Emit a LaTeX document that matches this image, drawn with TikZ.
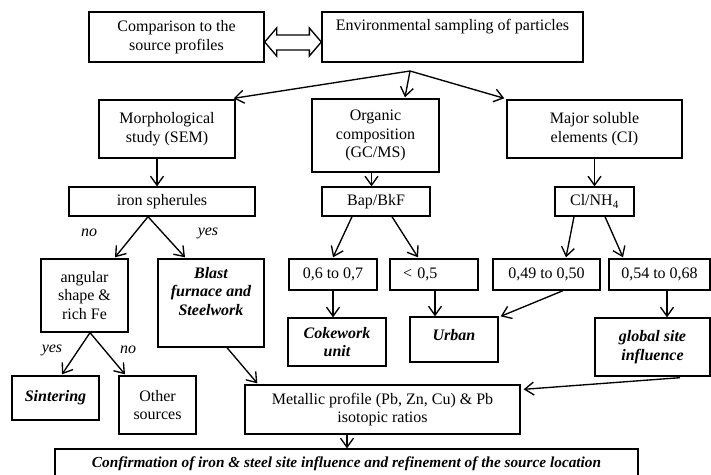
\documentclass[tikz,border=0pt]{standalone}
\usepackage{fontspec}
\setmainfont{Liberation Serif}
\usetikzlibrary{arrows.meta,calc}
\tikzset{
  bx/.style={draw, line width=1.35pt, align=center, inner sep=0pt, font=\fontsize{16}{18.5}\selectfont},
  bi/.style={font=\fontsize{16}{18.5}\selectfont\bfseries\itshape},
  lbl/.style={inner sep=0pt, font=\fontsize{16}{18.5}\selectfont\itshape},
  arr/.style={line width=1.35pt, -{Straight Barb[length=9pt,width=13pt,line width=1.35pt]}},
}
\begin{document}
\begin{tikzpicture}[x=1pt,y=-1pt]
\useasboundingbox (0,0) rectangle (711,474);
% top row
\node[bx, minimum width=175, minimum height=50] (cmp) at (176.5,37) {Comparison to the\\source profiles};
\node[bx, minimum width=261, minimum height=50] (env) at (452.5,37) {Environmental sampling of particles\\\strut};
% second row
\node[bx, minimum width=136, minimum height=58] (morph) at (167,129) {Morphological\\study (SEM)};
\node[bx, minimum width=127, minimum height=73] (org) at (375.5,135.5) {Organic\\composition\\(GC/MS)};
\node[bx, minimum width=175, minimum height=58] (maj) at (594.5,129) {Major soluble\\elements (CI)};
% third row
\node[bx, minimum width=186, minimum height=29] (iron) at (162,201.5) {iron spherules};
\node[bx, minimum width=108, minimum height=29] (bap) at (376,201.5) {Bap/BkF};
\node[bx, minimum width=79, minimum height=29] (cl) at (594.5,201.5) {Cl/NH\textsubscript{4}};
% fourth row
\node[bx, minimum width=87, minimum height=73] (ang) at (84.5,295.5) {angular\\shape \&\\rich Fe};
\node[bx, bi, minimum width=106, minimum height=88] (blast) at (211,303) {Blast\\furnace and\\Steelwork\\\strut};
\node[bx, minimum width=88, minimum height=31] (c06) at (333,274.5) {0,6 to 0,7};
\node[bx, minimum width=88, minimum height=31, inner xsep=13pt, text width=62pt, align=left] (c05) at (434,274.5) {< 0,5};
\node[bx, minimum width=107, minimum height=31] (c049) at (546.5,274.5) {0,49 to 0,50};
\node[bx, minimum width=101, minimum height=31] (c054) at (659.5,274.5) {0,54 to 0,68};
% fifth row
\node[bx, bi, minimum width=98, minimum height=48] (coke) at (337,342) {Cokework\\unit};
\node[bx, bi, minimum width=88, minimum height=45] (urban) at (454,339.5) {\raisebox{9pt}{Urban}};
\node[bx, bi, minimum width=115, minimum height=58] (glob) at (652.5,347) {global site\\influence};
% sixth row
\node[bx, bi, minimum width=87, minimum height=44] (sint) at (55.5,398) {Sintering};
\node[bx, minimum width=77, minimum height=58] (other) at (157.5,405) {Other\\sources};
\node[bx, minimum width=275, minimum height=49] (met) at (382.5,409.5) {Metallic profile (Pb, Zn, Cu) \& Pb\\isotopic ratios};
% bottom
\node[bx, font=\fontsize{15.3}{18}\selectfont\bfseries\itshape, minimum width=583, minimum height=30] (conf) at (346.5,464) {Confirmation of iron \& steel site influence and refinement of the source location};

% double hollow arrow
\coordinate (dl) at ($(cmp.east)+(0,5)$);
\coordinate (dr) at ($(env.west)+(0,5)$);
\draw[line width=1.35pt, line join=miter]
  (dl) -- ($(dl)+(12,-14)$) -- ($(dl)+(12,-7)$) -- ($(dr)+(-12,-7)$) -- ($(dr)+(-12,-14)$)
  -- (dr) -- ($(dr)+(-12,14)$) -- ($(dr)+(-12,8)$) -- ($(dl)+(12,8)$) -- ($(dl)+(12,14)$) -- cycle;

% split from sampling
\coordinate (sp) at (410,71);
\draw[arr] (sp) -- ($(morph.north east)+(-2,-1)$);
\draw[arr] (sp) -- ($(org.north)+(29.5,-1)$);
\draw[arr] (sp) -- ($(maj.north west)+(-2,-1)$);

% verticals
\draw[arr] ($(morph.south)+(-10,0)$) coordinate (t1) -- (t1 |- iron.north);
\draw[arr] ($(org.south)+(-4,0)$) coordinate (t2) -- (t2 |- bap.north);
\draw[arr] (maj.south) -- (cl.north);

% iron spherules branches
\draw[arr] ($(iron.south)+(-14,0)$) -- ($(ang.north)+(30.5,-1)$);
\draw[arr] ($(iron.south)+(-14,0)$) -- ($(blast.north)+(-26,-1)$);
\node[lbl] (no1) at (89,233) {no};
\node[lbl] (yes1) at (208,233) {yes};

% angular branches
\draw[arr] ($(ang.south)+(5.5,0)$) -- ($(sint.north)+(6.5,-1)$);
\draw[arr] ($(ang.south)+(5.5,0)$) -- ($(other.north)+(-32.5,-1)$);
\node[lbl] (yes2) at (52,350) {yes};
\node[lbl] (no2) at (128,350) {no};

% blast to metallic
\draw[arr] ($(blast.south)+(16,0)$) -- ($(met.north west)+(13,-1)$);

% Bap branches
\draw[arr] ($(bap.south)+(-24,0)$) -- ($(c06.north)+(0,-1)$);
\draw[arr] ($(bap.south)+(16,0)$) -- ($(c05.north)+(-16,-1)$);
\draw[arr] (c06.south) -- (c06.south |- coke.north);
\draw[arr] ($(c05.south)+(1,0)$) coordinate (t3) -- (t3 |- urban.north);

% Cl branches
\draw[arr] ($(cl.south)+(-20.5,0)$) -- ($(c049.north)+(19.5,-1)$);
\draw[arr] ($(cl.south)+(10.5,0)$) -- ($(c054.north)+(-36.5,-1)$);
\draw[arr] ($(c049.south)+(16.5,0)$) -- ($(urban.north east)+(2,0)$);
\draw[arr] ($(c054.south)+(7.5,0)$) coordinate (t4) -- (t4 |- glob.north);

% global to metallic
\draw[arr] ($(glob.south)+(27.5,1)$) -- ($(met.north east)+(3,5)$);

% metallic to confirmation
\draw[arr] ($(met.south)+(-35.5,0)$) coordinate (t5) -- (t5 |- conf.north);
\end{tikzpicture}
\end{document}
